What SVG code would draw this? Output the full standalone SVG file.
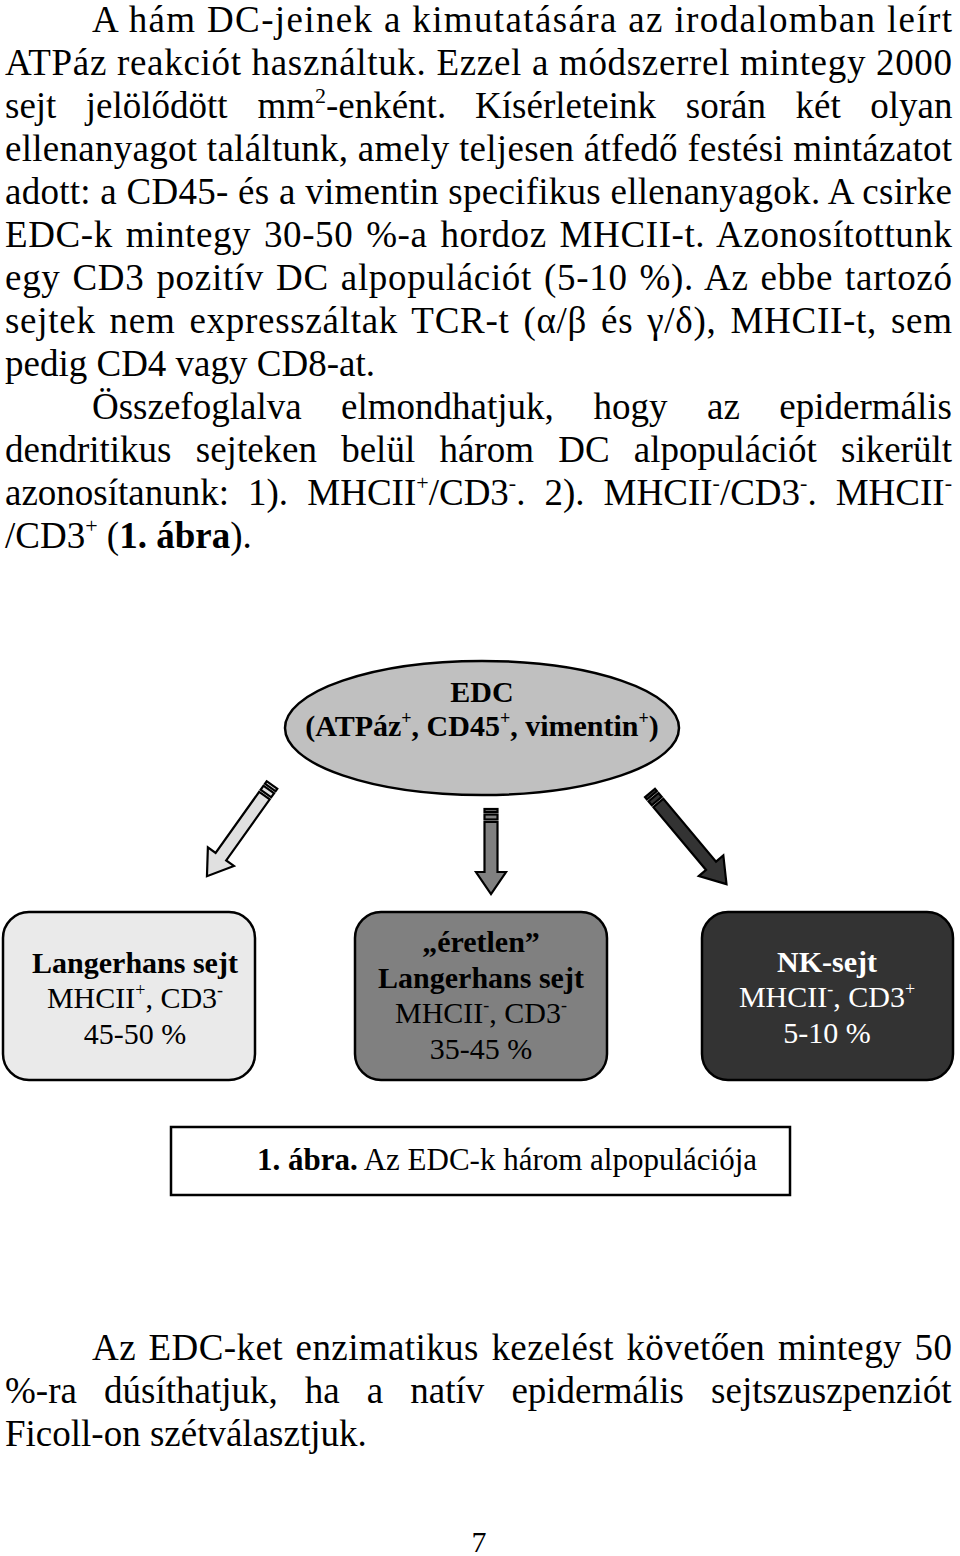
<svg xmlns="http://www.w3.org/2000/svg" width="960" height="1556" viewBox="0 0 960 1556">
<style>
.body{font-family:"Liberation Serif","Times New Roman",serif;font-size:37px;fill:#000}
.dg{font-family:"Liberation Serif","Times New Roman",serif;font-size:30px;text-anchor:middle}
.b{font-weight:bold}
.sup{font-size:22px}
.ar{stroke:#000;stroke-width:2.2;stroke-linejoin:miter}
.box{stroke:#000;stroke-width:2.5}
</style>
<rect width="960" height="1556" fill="#fff"/>
<g id="body-text" class="body">
<text x="92" y="32" textLength="860" lengthAdjust="spacing">A hám DC-jeinek a kimutatására az irodalomban leírt</text>
<text x="5" y="75" textLength="947" lengthAdjust="spacing">ATPáz reakciót használtuk. Ezzel a módszerrel mintegy 2000</text>
<text y="118"><tspan x="5">sejt</tspan><tspan x="85.7">jelölődött</tspan><tspan x="257.4">mm</tspan><tspan class="sup" dy="-15">2</tspan><tspan dy="15">-enként.</tspan><tspan x="475.1">Kísérleteink</tspan><tspan x="685.8">során</tspan><tspan x="795.5">két</tspan><tspan x="870.2">olyan</tspan></text>
<text x="5" y="161" textLength="947" lengthAdjust="spacing">ellenanyagot találtunk, amely teljesen átfedő festési mintázatot</text>
<text x="5" y="204" textLength="947" lengthAdjust="spacing">adott: a CD45- és a vimentin specifikus ellenanyagok. A csirke</text>
<text x="5" y="247" word-spacing="3" textLength="947" lengthAdjust="spacing">EDC-k mintegy 30-50 %-a hordoz MHCII-t. Azonosítottunk</text>
<text x="5" y="290" word-spacing="2" textLength="947" lengthAdjust="spacing">egy CD3 pozitív DC alpopulációt (5-10 %). Az ebbe tartozó</text>
<text x="5" y="333" word-spacing="4" textLength="947" lengthAdjust="spacing">sejtek nem expresszáltak TCR-t (α/β és γ/δ), MHCII-t, sem</text>
<text x="5" y="376">pedig CD4 vagy CD8-at.</text>
<text y="419"><tspan x="92">Összefoglalva</tspan><tspan x="341">elmondhatjuk,</tspan><tspan x="593.4">hogy</tspan><tspan x="707">az</tspan><tspan x="779.3">epidermális</tspan></text>
<text y="462"><tspan x="5">dendritikus</tspan><tspan x="195.8">sejteken</tspan><tspan x="341.2">belül</tspan><tspan x="439.4">három</tspan><tspan x="558.2">DC</tspan><tspan x="633.8">alpopulációt</tspan><tspan x="841">sikerült</tspan></text>
<text y="505"><tspan x="5">azonosítanunk:</tspan><tspan x="248">1).</tspan><tspan x="307.3">MHCII</tspan><tspan class="sup" dy="-15">+</tspan><tspan dy="15">/CD3</tspan><tspan class="sup" dy="-15">-</tspan><tspan dy="15">.</tspan><tspan x="544.4">2).</tspan><tspan x="603.6">MHCII</tspan><tspan class="sup" dy="-15">-</tspan><tspan dy="15">/CD3</tspan><tspan class="sup" dy="-15">-</tspan><tspan dy="15">.</tspan><tspan x="835.7">MHCII</tspan><tspan class="sup" dy="-15">-</tspan></text>
<text x="5" y="548">/CD3<tspan class="sup" dy="-15">+</tspan><tspan dy="15"> (</tspan><tspan class="b">1. ábra</tspan>).</text>
<text x="92" y="1360" word-spacing="3" textLength="860" lengthAdjust="spacing">Az EDC-ket enzimatikus kezelést követően mintegy 50</text>
<text y="1403"><tspan x="5">%-ra</tspan><tspan x="104">dúsíthatjuk,</tspan><tspan x="304.8">ha</tspan><tspan x="366.8">a</tspan><tspan x="410.3">natív</tspan><tspan x="511.4">epidermális</tspan><tspan x="711.1">sejtszuszpenziót</tspan></text>
<text x="5" y="1446">Ficoll-on szétválasztjuk.</text>
<text x="479" y="1552" text-anchor="middle" style="font-size:30px">7</text>
</g>
<g id="connectors">
<g id="arrow-left" transform="translate(272,785) rotate(35.5)" fill="#e0e0e0" class="ar">
<rect x="-6.5" y="0" width="13" height="3"/>
<rect x="-6.5" y="5.5" width="13" height="5"/>
<path d="M-6.5,13 H6.5 V88 H16 L0,112 L-16,88 H-6.5 Z"/>
</g>
<g id="arrow-mid" transform="translate(491,809)" fill="#808080" class="ar">
<rect x="-6.5" y="0" width="13" height="3"/>
<rect x="-6.5" y="5.5" width="13" height="5"/>
<path d="M-6.5,13 H6.5 V63 H15 L0,85 L-15,63 H-6.5 Z"/>
</g>
<g id="arrow-right" transform="translate(650,793) rotate(-40)" fill="#333333" class="ar">
<rect x="-6.5" y="0" width="13" height="3"/>
<rect x="-6.5" y="5.5" width="13" height="5"/>
<path d="M-6.5,13 H6.5 V95 H16 L0,119 L-16,95 H-6.5 Z"/>
</g>
</g>
<g id="node-edc">
<ellipse cx="482" cy="728" rx="197" ry="67" fill="#c0c0c0" stroke="#000" stroke-width="2.5"/>
<text class="dg b" x="482" y="702">EDC</text>
<text class="dg b" x="482" y="736">(ATPáz<tspan style="font-size:18px" dy="-12">+</tspan><tspan dy="12">, CD45</tspan><tspan style="font-size:18px" dy="-12">+</tspan><tspan dy="12">, vimentin</tspan><tspan style="font-size:18px" dy="-12">+</tspan><tspan dy="12">)</tspan></text>
</g>
<g id="node-lc">
<rect class="box" x="3" y="912" width="252" height="168" rx="26" fill="#eaeaea"/>
<text class="dg b" x="135" y="973">Langerhans sejt</text>
<text class="dg" x="135" y="1008">MHCII<tspan style="font-size:18px" dy="-12">+</tspan><tspan dy="12">, CD3</tspan><tspan style="font-size:18px" dy="-12">-</tspan></text>
<text class="dg" x="135" y="1044">45-50 %</text>
</g>
<g id="node-ilc">
<rect class="box" x="355" y="912" width="252" height="168" rx="26" fill="#808080"/>
<text class="dg b" x="481" y="952">„éretlen”</text>
<text class="dg b" x="481" y="988">Langerhans sejt</text>
<text class="dg" x="481" y="1023">MHCII<tspan style="font-size:18px" dy="-12">-</tspan><tspan dy="12">, CD3</tspan><tspan style="font-size:18px" dy="-12">-</tspan></text>
<text class="dg" x="481" y="1059">35-45 %</text>
</g>
<g id="node-nk">
<rect class="box" x="702" y="912" width="251" height="168" rx="26" fill="#333333"/>
<text class="dg b" x="827" y="972" fill="#fff">NK-sejt</text>
<text class="dg" x="827" y="1007" fill="#fff">MHCII<tspan style="font-size:18px" dy="-12">-</tspan><tspan dy="12">, CD3</tspan><tspan style="font-size:18px" dy="-12">+</tspan></text>
<text class="dg" x="827" y="1043" fill="#fff">5-10 %</text>
</g>
<g id="caption">
<rect x="171" y="1127" width="619" height="68" fill="none" stroke="#000" stroke-width="2.5"/>
<text class="dg" x="507" y="1170" style="font-size:31px"><tspan class="b">1. ábra.</tspan> Az EDC-k három alpopulációja</text>
</g>
</svg>
